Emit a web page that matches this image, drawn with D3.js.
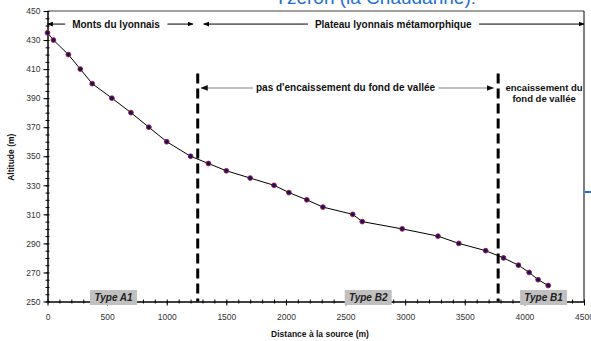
<!DOCTYPE html>
<html>
<head>
<meta charset="utf-8">
<script src="https://cdn.jsdelivr.net/npm/d3@7/dist/d3.min.js"></script>
<style>
  html, body { margin: 0; padding: 0; background: #fff; }
  svg { display: block; font-family: "Liberation Sans", Arial, sans-serif; }
</style>
</head>
<body>
<svg id="chart" width="591" height="341"></svg>
<script>
// Longitudinal profile: distance from the source (m) vs altitude (m)
const distance = [0, 50, 175, 275, 375, 540, 700, 850, 1000, 1200, 1350, 1500, 1700, 1900,
                  2025, 2175, 2310, 2560, 2640, 2975, 3275, 3450, 3675, 3825, 3950, 4040, 4115, 4200];
const altitude = [435, 430, 420, 410, 400, 390, 380, 370, 360, 350, 345, 340, 335, 330,
                  325, 320, 315, 310, 305, 300, 295, 290, 285, 280, 275, 270, 265, 261];

const xTicks = [0, 500, 1000, 1500, 2000, 2500, 3000, 3500, 4000, 4500];
const yTicks = [250, 270, 290, 310, 330, 350, 370, 390, 410, 430, 450];

// Boundaries between valley segments
const breaks = [1260, 3780];
const breakTop = 407;

// Zone annotations
const zones = [
  { label: "Monts du lyonnais", from: 0, to: 1220, at: 575 },
  { label: "Plateau lyonnais métamorphique", from: 1310, to: 4500, at: 2900 }
];
const incision = { label: "pas d'encaissement du fond de vallée", from: 1290, to: 3740, at: 2500 };
const incisionRight = ["encaissement du", "fond de vallée"];
const incisionRightAt = 4165;
const types = [
  { label: "Type A1", at: 554 },
  { label: "Type B2", at: 2690 },
  { label: "Type B1", at: 4161 }
];

const svg = d3.select("#chart");
const x = d3.scaleLinear().domain([0, 4500]).range([47.5, 584]);
const y = d3.scaleLinear().domain([250, 450]).range([301.5, 11]);

const defs = svg.append("defs");
function marker(id, color) {
  defs.append("marker").attr("id", id)
    .attr("viewBox", "0 0 10 10").attr("refX", 9).attr("refY", 5)
    .attr("markerWidth", 6).attr("markerHeight", 6).attr("orient", "auto-start-reverse")
    .append("path").attr("d", "M0,1 L10,5 L0,9 Z").attr("fill", color);
}
marker("arrBlack", "#000");
marker("arrGray", "#111");

// Title (cropped at top)
svg.append("text").attr("x", 476).attr("y", 4).attr("text-anchor", "end")
  .attr("font-size", 19).attr("fill", "#1f6fd6").text("Yzeron (la Chaudanne):");

// Plot frame
svg.append("line").attr("x1", x(0)).attr("x2", x(4500)).attr("y1", y(450)).attr("y2", y(450))
  .attr("stroke", "#808080").attr("stroke-width", 1.5);
svg.append("line").attr("x1", x(4500)).attr("x2", x(4500)).attr("y1", y(450)).attr("y2", y(250))
  .attr("stroke", "#000").attr("stroke-width", 1);

// Small blue stub on the right edge
svg.append("line").attr("x1", 585).attr("x2", 591).attr("y1", 192).attr("y2", 192)
  .attr("stroke", "#1f6fd6").attr("stroke-width", 2);

// Axes: minor ticks
svg.append("g").attr("transform", `translate(0,${y(250)})`)
  .call(d3.axisBottom(x).tickValues(d3.range(0, 4501, 100)).tickSize(2).tickFormat(""))
  .call(g => g.select(".domain").remove())
  .call(g => g.selectAll("line").attr("y1", -2).attr("stroke", "#000"));
svg.append("g").attr("transform", `translate(${x(0)},0)`)
  .call(d3.axisLeft(y).tickValues(d3.range(250, 451, 5)).tickSize(2).tickFormat(""))
  .call(g => g.select(".domain").remove())
  .call(g => g.selectAll("line").attr("x1", 2).attr("stroke", "#000"));

// Axes: major ticks and labels
const xAxis = svg.append("g").attr("transform", `translate(0,${y(250)})`)
  .call(d3.axisBottom(x).tickValues(xTicks).tickSize(4).tickSizeOuter(0).tickPadding(8).tickFormat(d3.format("d")));
xAxis.select(".domain").attr("stroke", "#000").attr("stroke-width", 1.5);
xAxis.selectAll("text").attr("font-size", 8.5).attr("fill", "#333").attr("font-family", "Liberation Sans, Arial, sans-serif");

const yAxis = svg.append("g").attr("transform", `translate(${x(0)},0)`)
  .call(d3.axisLeft(y).tickValues(yTicks).tickSize(4).tickSizeOuter(0).tickPadding(3).tickFormat(d3.format("d")));
yAxis.select(".domain").attr("stroke", "#000").attr("stroke-width", 1.5);
yAxis.selectAll("text").attr("font-size", 8.5).attr("fill", "#333").attr("font-family", "Liberation Sans, Arial, sans-serif");

// Axis titles
svg.append("text").attr("x", 320).attr("y", 337).attr("text-anchor", "middle")
  .attr("font-size", 8.5).attr("font-weight", "bold").attr("fill", "#111")
  .text("Distance à la source (m)");
svg.append("text").attr("transform", `translate(14,${y(350) + 1}) rotate(-90)`)
  .attr("text-anchor", "middle").attr("font-size", 8.5).attr("font-weight", "bold").attr("fill", "#111")
  .text("Altitude (m)");

// Segment boundaries
svg.selectAll("line.break").data(breaks).join("line").attr("class", "break")
  .attr("x1", d => x(d)).attr("x2", d => x(d))
  .attr("y1", y(breakTop)).attr("y2", y(250))
  .attr("stroke", "#000").attr("stroke-width", 3).attr("stroke-dasharray", "10,5");

// Text with a white backing rect that breaks the arrow line behind it
function labelOnLine(parent, cx, cy, label, size, pad) {
  const g = parent.append("g");
  const rect = g.append("rect").attr("fill", "#fff");
  const t = g.append("text").attr("x", cx).attr("y", cy).attr("text-anchor", "middle")
    .attr("font-size", size).attr("font-weight", "bold").attr("fill", "#111").text(label);
  const bb = t.node().getBBox();
  rect.attr("x", bb.x - pad).attr("y", bb.y).attr("width", bb.width + 2 * pad).attr("height", bb.height);
}

// Zone arrows
const zoneY = y(441);
zones.forEach(z => {
  svg.append("line").attr("x1", x(z.from)).attr("x2", x(z.to)).attr("y1", zoneY).attr("y2", zoneY)
    .attr("stroke", "#000").attr("stroke-width", 1)
    .attr("marker-start", "url(#arrBlack)").attr("marker-end", "url(#arrBlack)");
  labelOnLine(svg, x(z.at), zoneY + 3.5, z.label, 10, 7);
});

// Incision arrow
const incY = y(397);
svg.append("line").attr("x1", x(incision.from)).attr("x2", x(incision.to)).attr("y1", incY).attr("y2", incY)
  .attr("stroke", "#808080").attr("stroke-width", 1.2)
  .attr("marker-start", "url(#arrGray)").attr("marker-end", "url(#arrGray)");
labelOnLine(svg, x(incision.at), incY + 3.4, incision.label, 10, 3);

svg.append("text").attr("x", x(incisionRightAt)).attr("y", incY + 3).attr("text-anchor", "middle")
  .attr("font-size", 9.5).attr("font-weight", "bold").attr("fill", "#111")
  .selectAll("tspan").data(incisionRight).join("tspan")
  .attr("x", x(incisionRightAt)).attr("dy", (d, i) => i === 0 ? 0 : 11.5).text(d => d);

// Profile line and points
const line = d3.line().x((d, i) => x(distance[i])).y((d, i) => y(altitude[i]));
svg.append("path").datum(altitude).attr("d", line)
  .attr("fill", "none").attr("stroke", "#000").attr("stroke-width", 1);
svg.selectAll("circle.pt").data(altitude).join("circle").attr("class", "pt")
  .attr("cx", (d, i) => x(distance[i])).attr("cy", d => y(d)).attr("r", 2.4)
  .attr("fill", "#10107a").attr("stroke", "#b01c1c").attr("stroke-width", 0.9);

// Valley type labels
const tg = svg.selectAll("g.type").data(types).join("g").attr("class", "type")
  .attr("transform", d => `translate(${x(d.at)},${y(250) - 4})`);
tg.append("rect").attr("x", -23.5).attr("y", -7.5).attr("width", 47).attr("height", 15).attr("fill", "#c0c0c0");
tg.append("text").attr("text-anchor", "middle").attr("y", 3.5)
  .attr("font-size", 10).attr("font-weight", "bold").attr("font-style", "italic").attr("fill", "#222")
  .text(d => d.label);
</script>
</body>
</html>
